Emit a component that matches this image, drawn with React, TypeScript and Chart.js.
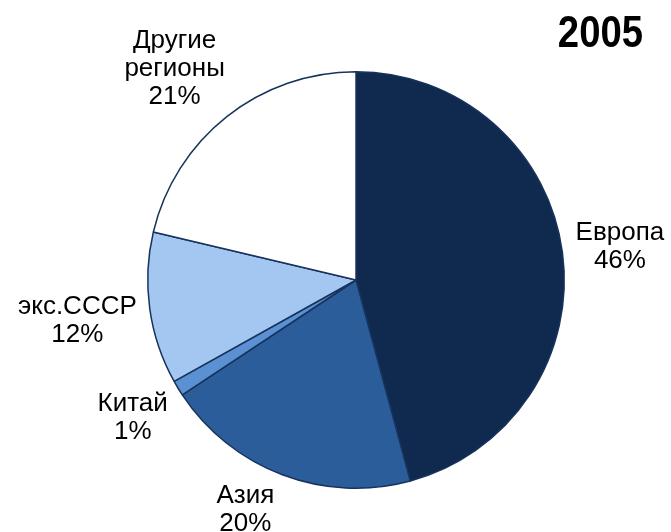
import React, { useEffect, useRef } from "react";
import { Chart, registerables } from "chart.js";

Chart.register(...registerables);

const regions = ["Европа", "Азия", "Китай", "экс.СССР", "Другие регионы"];
const shares = [45.8, 19.9, 1.2, 11.8, 21.3];
const percentLabels = ["46%", "20%", "1%", "12%", "21%"];
const sliceColors = ["#0f2a4e", "#2c5d9b", "#5b90d2", "#a4c7f2", "#ffffff"];
const yearTitle = "2005";

const LABEL_TOP_LIMIT = 29;
const LABEL_BOTTOM_LIMIT = 531;

const labelPlugin = {
  id: "outsideLabels",
  afterDraw(chart: any) {
    const ctx = chart.ctx;
    const meta = chart.getDatasetMeta(0);
    const fontSize = 26;
    const lh = 28;
    const capH = fontSize * 0.716;
    const gap = 11;
    ctx.save();
    ctx.font = `${fontSize}px "Liberation Sans", Arial, sans-serif`;
    ctx.fillStyle = "#000000";
    ctx.textAlign = "center";
    ctx.textBaseline = "alphabetic";
    meta.data.forEach((arc: any, i: number) => {
      const { x, y, startAngle, endAngle, outerRadius } = arc.getProps(
        ["x", "y", "startAngle", "endAngle", "outerRadius"],
        true
      );
      const lines = [...regions[i].split(" "), percentLabels[i]];
      const w = Math.max(...lines.map((l) => ctx.measureText(l).width));
      const h = (lines.length - 1) * lh + capH;
      const place = (a: number) => {
        const ux = Math.cos(a);
        const uy = Math.sin(a);
        const d = outerRadius + gap + Math.abs(ux) * (w / 2) + Math.abs(uy) * (h / 2);
        return { cx: x + ux * d, cy: y + uy * d };
      };
      let a = (startAngle + endAngle) / 2;
      let p = place(a);
      const step = Math.PI / 720;
      for (let k = 0; k < 200; k++) {
        if (p.cy + h / 2 > LABEL_BOTTOM_LIMIT) {
          a -= Math.sign(Math.cos(a)) * step;
        } else if (p.cy - h / 2 < LABEL_TOP_LIMIT) {
          a += Math.sign(Math.cos(a)) * step;
        } else break;
        p = place(a);
      }
      lines.forEach((line, j) => {
        ctx.fillText(line, p.cx, p.cy - h / 2 + capH + j * lh);
      });
    });
    ctx.font = `bold 44px "Liberation Sans", Arial, sans-serif`;
    ctx.textAlign = "right";
    ctx.textBaseline = "alphabetic";
    ctx.translate(643, 47);
    ctx.scale(0.87, 1);
    ctx.fillText(yearTitle, 0, 0);
    ctx.restore();
  },
};

export default function App() {
  const ref = useRef<HTMLCanvasElement>(null);
  useEffect(() => {
    if (!ref.current) return;
    const chart = new Chart(ref.current, {
      type: "pie",
      data: {
        labels: regions,
        datasets: [
          {
            data: shares,
            backgroundColor: sliceColors,
            borderColor: "#17335c",
            borderWidth: 1.5,
          },
        ],
      },
      options: {
        animation: false,
        responsive: false,
        maintainAspectRatio: false,
        layout: { padding: { left: 147, right: 106, top: 71, bottom: 43 } },
        plugins: {
          legend: { display: false },
          tooltip: { enabled: false },
          title: { display: false },
        },
      },
      plugins: [labelPlugin],
    });
    return () => chart.destroy();
  }, []);
  return (
    <div style={{ position: "fixed", left: 0, top: 0, width: 671, height: 532, background: "#ffffff" }}>
      <canvas ref={ref} width={671} height={532} />
    </div>
  );
}
